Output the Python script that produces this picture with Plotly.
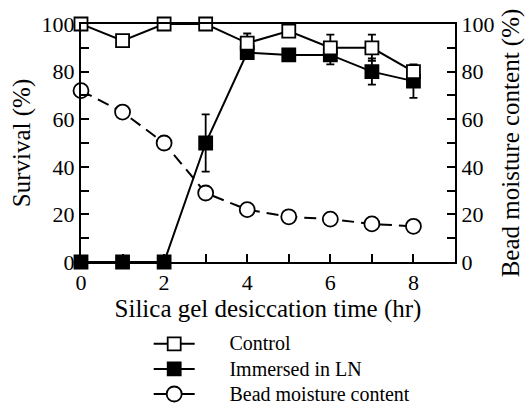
import plotly.graph_objects as go

# Desiccation time (hours)
hours = [0, 1, 2, 3, 4, 5, 6, 7, 8]

# Survival (%) of non-frozen controls and of beads immersed in liquid nitrogen
control = [100, 93, 100, 100, 92, 97, 90, 90, 80]
control_err = [0, 0, 0, 0, 4, 0, 5.5, 5.5, 0]
immersed = [0, 0, 0, 50, 88, 87, 87, 80, 76]
immersed_err = [0, 0, 0, 12, 0, 0, 4, 5.5, 7]

# Bead moisture content (%)
moisture = [72, 63, 50, 29, 22, 19, 18, 16, 15]

x_ticks = [0, 1, 2, 3, 4, 5, 6, 7, 8]
x_labels = ["0", "", "2", "", "4", "", "6", "", "8"]
y_ticks = [0, 10, 20, 30, 40, 50, 60, 70, 80, 90, 100]
y_labels = ["0", "", "20", "", "40", "", "60", "", "80", "", "100"]

FONT = "Liberation Serif, Times New Roman, serif"
TICK_SIZE = 22
TITLE_SIZE = 25
KEY_SIZE = 20
KEY_ROW = 17          # base legend font: sets the row pitch
PAD = "\u00a0" * 7


def key(label):
    return f'{PAD}<span style="font-size:{KEY_SIZE}px">{label}</span>'


circle_marker = dict(symbol="circle", size=15, color="white",
                     line=dict(color="black", width=1.8))

fig = go.Figure()

fig.add_trace(go.Scatter(
    x=hours, y=moisture, yaxis="y2", showlegend=False,
    mode="lines+markers",
    line=dict(color="black", width=2, dash="12px,7px"),
    marker=circle_marker,
    cliponaxis=False,
))
# key entry for the moisture curve (drawn with a solid stroke in the key)
fig.add_trace(go.Scatter(
    x=[None], y=[None], yaxis="y2", name=key("Bead moisture content"),
    mode="lines+markers",
    line=dict(color="black", width=2),
    marker=circle_marker,
))

fig.add_trace(go.Scatter(
    x=hours, y=immersed, name=key("Immersed in LN"),
    mode="lines+markers",
    line=dict(color="black", width=2),
    marker=dict(symbol="square", size=13, color="black",
                line=dict(color="black", width=1.8)),
    error_y=dict(type="data", array=immersed_err, color="black",
                 thickness=1.8, width=4),
    cliponaxis=False,
))

fig.add_trace(go.Scatter(
    x=hours, y=control, name=key("Control"),
    mode="lines+markers",
    line=dict(color="black", width=2),
    marker=dict(symbol="square", size=13, color="white",
                line=dict(color="black", width=1.8)),
    error_y=dict(type="data", array=control_err, color="black",
                 thickness=1.8, width=4),
    cliponaxis=False,
))

axis_common = dict(
    showline=True, linecolor="black", linewidth=2,
    ticks="inside", ticklen=8, tickwidth=2, tickcolor="black",
    showgrid=False, zeroline=False,
    tickfont=dict(family=FONT, size=TICK_SIZE, color="black"),
)

fig.update_layout(
    width=528, height=405,
    margin=dict(l=81, r=73, t=24, b=143, autoexpand=False),
    paper_bgcolor="white", plot_bgcolor="white",
    font=dict(family=FONT, size=TICK_SIZE, color="black"),
    xaxis=dict(
        range=[0, 9], tickvals=x_ticks, ticktext=x_labels,
        mirror=True,
        title=dict(text="Silica gel desiccation time (hr)",
                   font=dict(family=FONT, size=TITLE_SIZE), standoff=0),
        **axis_common,
    ),
    yaxis=dict(
        range=[0, 100], tickvals=y_ticks, ticktext=y_labels,
        title=dict(text="Survival (%)",
                   font=dict(family=FONT, size=TITLE_SIZE), standoff=4),
        **axis_common,
    ),
    yaxis2=dict(
        range=[0, 100], overlaying="y", side="right",
        tickvals=y_ticks, ticktext=y_labels,
        title=dict(text="Bead moisture content (%)",
                   font=dict(family=FONT, size=TITLE_SIZE), standoff=8),
        **axis_common,
    ),
    legend=dict(
        x=0.181, y=-0.27, xanchor="left", yanchor="top",
        traceorder="reversed",
        font=dict(family=FONT, size=KEY_ROW, color="black"),
        bgcolor="rgba(0,0,0,0)", itemwidth=41, tracegroupgap=0,
    ),
    showlegend=True,
)

fig.write_html("out.html")
